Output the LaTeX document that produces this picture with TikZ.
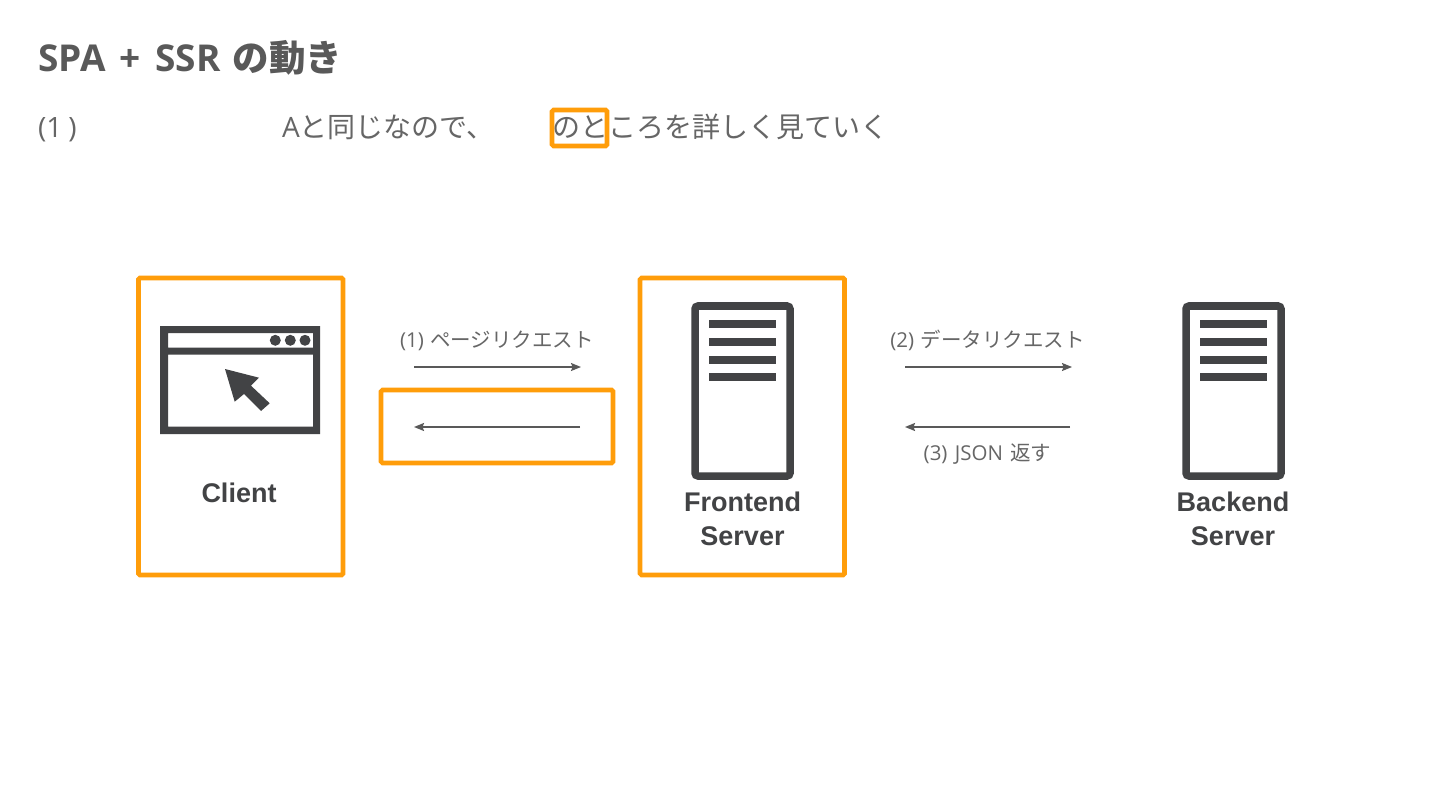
\documentclass[tikz,border=0pt]{standalone}
\usepackage{fontspec}
\setmainfont{Open Sans}
\newfontfamily\jp{Noto Sans CJK JP}
\newfontfamily\lab{Liberation Sans}
\usetikzlibrary{arrows.meta}
\definecolor{icon}{HTML}{424345}
\definecolor{hl}{HTML}{FF9D0A}
\definecolor{txt}{HTML}{595959}
\definecolor{thin}{HTML}{666666}
\newcommand{\fs}[1]{\fontsize{#1}{#1}\selectfont}
\tikzset{
  x=1pt,y=-1pt,
  hlbox/.style={draw=hl,line width=4.6pt,rounded corners=1.5pt,inner sep=0pt,fill=none},
  flow/.style={draw=txt,line width=1.4pt,-{Stealth[length=10pt,width=8pt,inset=1.5pt]}},
  iconlabel/.style={inner sep=0pt,text=icon,font=\lab\bfseries\fs{27},anchor=base},
  flowlabel/.style={inner sep=0pt,text=thin,font=\fs{20.5},anchor=base},
  bodytext/.style={inner sep=0pt,text=thin,font=\fs{28},anchor=base west},
  titletext/.style={inner sep=0pt,text=txt,font=\bfseries\fs{36},anchor=base west},
}
\newcommand{\servericon}[1]{%
  \begin{scope}[xshift=#1]
    \draw[icon,line width=7.5pt,rounded corners=3pt] (695,306) rectangle (790,476);
    \fill[icon] (709,320) rectangle (776,328.3);
    \fill[icon] (709,337.5) rectangle (776,345.7);
    \fill[icon] (709,356) rectangle (776,364);
    \fill[icon] (709,373) rectangle (776,381);
  \end{scope}}
\begin{document}
\begin{tikzpicture}
\useasboundingbox[fill=white] (0,0) rectangle (1440,810);
% heading
\node[titletext] (title) at (38,72) {{\fs{37}SPA\hspace{4.5pt} +\hspace{5pt} SSR}\hspace{3pt} {\jp\bfseries\fs{36.5}の動き}};
\node[bodytext] (l1) at (38,138) {(1\hspace{6pt})};
\node[bodytext] (l2) at (282,138) {A\jp と同じなので、};
\node[bodytext] (l3) at (552,138) {\jp のところを詳しく見ていく};
\node[hlbox,minimum width=55pt,minimum height=36pt] (mark) at (579.5,128) {};
% orange boxes
\node[hlbox,minimum width=204.5pt,minimum height=297pt] (clientbox) at (240.75,426.5) {};
\node[hlbox,minimum width=204.5pt,minimum height=297pt] (frontbox) at (742.25,426.5) {};
\node[hlbox,minimum width=232pt,minimum height=73pt] (retbox) at (497,426.5) {};
% browser icon
\fill[icon,even odd rule] (160,326) rectangle (320,434)
  (168,333) rectangle (313,347.5)
  (168,354.7) rectangle (313,426.7);
\fill[icon] (275.3,340.3) circle (5.5) (290.3,340.3) circle (5.5) (305,340.3) circle (5.5);
\fill[icon] (225,369) -- (259,377.7) -- (251,385.7) -- (269.7,403.3) -- (261,411) -- (244,394) -- (234.7,401.7) -- cycle;
% servers
\servericon{0pt}
\servericon{491pt}
% icon labels
\node[iconlabel] (client) at (239,502) {Client};
\node[iconlabel] (front1) at (742.5,511) {Frontend};
\node[iconlabel] (front2) at (742.5,545) {Server};
\node[iconlabel] (back1) at (1233,511) {Backend};
\node[iconlabel] (back2) at (1233,545) {Server};
% flows
\coordinate (a1) at (414,367); \coordinate (a2) at (581,367);
\coordinate (b1) at (580,427); \coordinate (b2) at (414,427);
\coordinate (c1) at (905,367); \coordinate (c2) at (1072,367);
\coordinate (d1) at (1070,427); \coordinate (d2) at (905,427);
\draw[flow] (a1) -- (a2);
\draw[flow] (b1) -- (b2);
\draw[flow] (c1) -- (c2);
\draw[flow] (d1) -- (d2);
\node[flowlabel] (t1) at (497,347) {(1)\hspace{1pt} {\jp ページリクエスト}};
\node[flowlabel] (t2) at (987.5,347) {(2)\hspace{1pt} {\jp データリクエスト}};
\node[flowlabel] (t3) at (987.5,460) {\hspace{0pt}(3)\hspace{2pt} JSON\hspace{2pt} {\jp 返す}};
\end{tikzpicture}
\end{document}
